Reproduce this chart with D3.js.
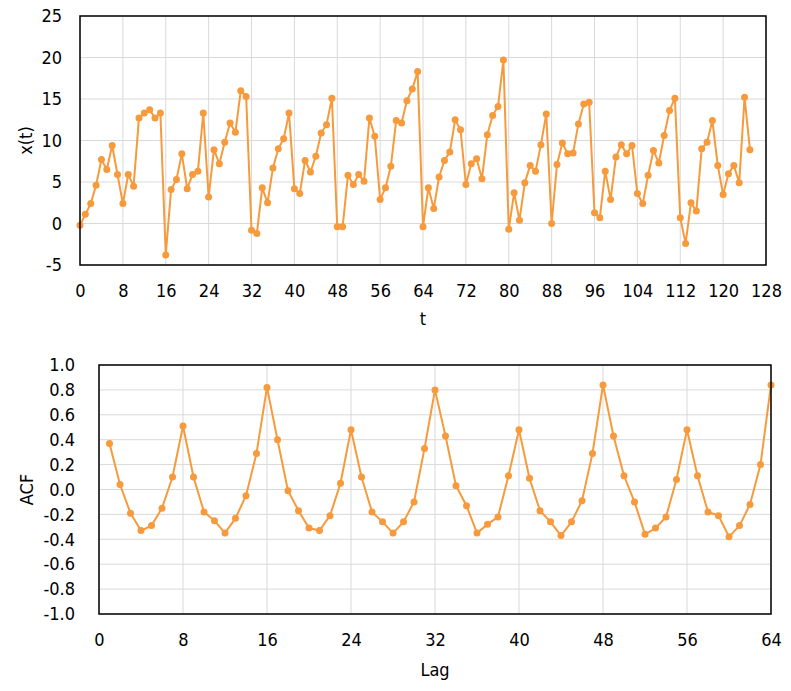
<!DOCTYPE html>
<html>
<head>
<meta charset="utf-8">
<script src="https://cdn.jsdelivr.net/npm/d3@7"></script>
<style>
  body { margin: 0; background: #fff; }
  svg text { font-family: "DejaVu Sans Condensed", "DejaVu Sans", sans-serif; fill: #000; }
</style>
</head>
<body>
<svg id="chart" width="791" height="691"></svg>
<script>
// time series x(t), t = 0..125
const xt = [
  -0.2, 1.1, 2.4, 4.6, 7.7, 6.5, 9.4, 5.9, 2.4, 5.9, 4.5, 12.7, 13.3, 13.7, 12.7, 13.3,
  -3.8, 4.1, 5.3, 8.4, 4.2, 5.9, 6.3, 13.3, 3.2, 8.9, 7.2, 9.8, 12.1, 11.0, 16.0, 15.3,
  -0.8, -1.2, 4.3, 2.5, 6.7, 9.0, 10.2, 13.3, 4.2, 3.6, 7.6, 6.2, 8.1, 10.9, 11.9, 15.1,
  -0.4, -0.4, 5.8, 4.7, 5.9, 5.1, 12.7, 10.5, 2.9, 4.3, 6.9, 12.4, 12.1, 14.8, 16.2, 18.3,
  -0.4, 4.3, 1.8, 5.6, 7.6, 8.6, 12.5, 11.3, 4.7, 7.2, 7.8, 5.4, 10.7, 13.0, 14.1, 19.7,
  -0.7, 3.7, 0.4, 4.9, 7.0, 6.3, 9.5, 13.2, 0.0, 7.1, 9.7, 8.4, 8.5, 12.0, 14.4, 14.6,
  1.3, 0.7, 6.3, 2.9, 8.0, 9.5, 8.4, 9.4, 3.6, 2.4, 5.8, 8.8, 7.3, 10.6, 13.6, 15.1,
  0.7, -2.4, 2.5, 1.5, 9.0, 9.8, 12.4, 7.0, 3.5, 6.0, 7.0, 4.9, 15.2, 8.9
];

// autocorrelation, lag = 1..64
const acf = [
  0.37, 0.04, -0.19, -0.33, -0.29, -0.15, 0.10, 0.51,
  0.10, -0.18, -0.25, -0.35, -0.23, -0.05, 0.29, 0.82,
  0.40, -0.01, -0.17, -0.31, -0.33, -0.21, 0.05, 0.48,
  0.10, -0.18, -0.26, -0.35, -0.26, -0.10, 0.33, 0.80,
  0.43, 0.03, -0.13, -0.35, -0.28, -0.22, 0.11, 0.48,
  0.09, -0.17, -0.26, -0.37, -0.26, -0.09, 0.29, 0.84,
  0.43, 0.11, -0.10, -0.36, -0.31, -0.22, 0.08, 0.48,
  0.11, -0.18, -0.21, -0.38, -0.29, -0.12, 0.20, 0.84
];

const tTicks = d3.range(0, 129, 8);
const xTicks = d3.range(-5, 26, 5);
const lagTicks = d3.range(0, 65, 8);
const acfTicks = d3.range(-10, 11, 2).map(v => v / 10);

const orange = '#f79a3c';
const svg = d3.select('#chart');

// plain hyphen instead of d3's unicode minus
const hyphen = f => v => f(v).replace('\u2212', '-');

function panel(opts) {
  const { left, right, top, bottom, xDomain, yDomain, xTickVals, yTickVals, yFmt, data, xLabel, yLabel, xLabelY, yLabelX } = opts;
  const x = d3.scaleLinear().domain(xDomain).range([left, right]);
  const y = d3.scaleLinear().domain(yDomain).range([bottom, top]);

  const grid = svg.append('g');
  grid.selectAll('line.v').data(xTickVals).join('line')
    .attr('x1', d => x(d)).attr('x2', d => x(d))
    .attr('y1', top).attr('y2', bottom)
    .attr('stroke', '#d9d9d9').attr('stroke-width', 1);
  grid.selectAll('line.h').data(yTickVals).join('line')
    .attr('x1', left).attr('x2', right)
    .attr('y1', d => y(d)).attr('y2', d => y(d))
    .attr('stroke', '#d9d9d9').attr('stroke-width', 1);

  const line = d3.line().x(d => x(d[0])).y(d => y(d[1]));
  svg.append('path')
    .datum(data)
    .attr('d', line)
    .attr('fill', 'none')
    .attr('stroke', orange)
    .attr('stroke-width', 2);
  svg.append('g').selectAll('circle').data(data).join('circle')
    .attr('cx', d => x(d[0])).attr('cy', d => y(d[1]))
    .attr('r', 3.5).attr('fill', orange);

  svg.append('rect')
    .attr('x', left).attr('y', top)
    .attr('width', right - left).attr('height', bottom - top)
    .attr('fill', 'none').attr('stroke', '#000').attr('stroke-width', 1.5);

  const xAxis = svg.append('g')
    .attr('transform', `translate(0,${bottom})`)
    .call(d3.axisBottom(x).tickValues(xTickVals).tickSize(0).tickPadding(19));
  const yAxis = svg.append('g')
    .attr('transform', `translate(${left},0)`)
    .call(d3.axisLeft(y).tickValues(yTickVals).tickFormat(hyphen(yFmt)).tickSize(0).tickPadding(opts.yPad));
  [xAxis, yAxis].forEach(a => {
    a.select('.domain').remove();
    a.selectAll('text').style('font-size', '18px').attr('font-family', null);
  });

  svg.append('text')
    .attr('x', (left + right) / 2).attr('y', xLabelY)
    .attr('text-anchor', 'middle').style('font-size', '18px')
    .text(xLabel);
  svg.append('text')
    .attr('transform', `translate(${yLabelX},${(top + bottom) / 2}) rotate(-90)`)
    .attr('text-anchor', 'middle').style('font-size', '18px')
    .text(yLabel);
}

panel({
  left: 80, right: 766, top: 16, bottom: 265,
  xDomain: [0, 128], yDomain: [-5, 25],
  xTickVals: tTicks, yTickVals: xTicks, yFmt: d3.format('d'), yPad: 18,
  data: xt.map((v, i) => [i, v]),
  xLabel: 't', yLabel: 'x(t)', xLabelY: 325, yLabelX: 32
});

panel({
  left: 99, right: 771, top: 365, bottom: 614,
  xDomain: [0, 64], yDomain: [-1, 1],
  xTickVals: lagTicks, yTickVals: acfTicks, yFmt: d3.format('.1f'), yPad: 24,
  data: acf.map((v, i) => [i + 1, v]),
  xLabel: 'Lag', yLabel: 'ACF', xLabelY: 676, yLabelX: 33
});
</script>
</body>
</html>
